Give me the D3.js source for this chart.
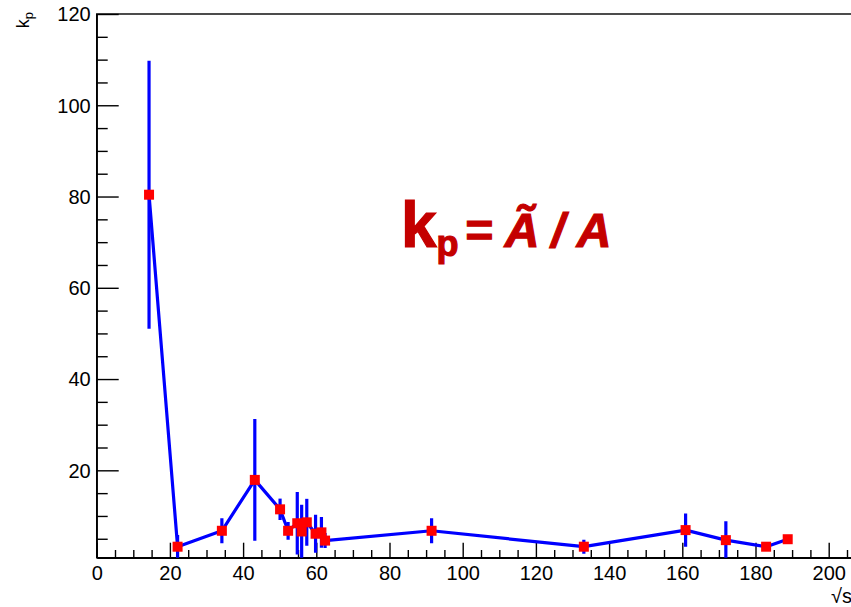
<!DOCTYPE html>
<html>
<head>
<meta charset="utf-8">
<script src="https://cdn.jsdelivr.net/npm/d3@7"></script>
<style>
  body { margin: 0; background: #fff; }
  svg { display: block; font-family: "Liberation Sans", Arial, Helvetica, sans-serif; }
  .axis path, .axis line { stroke: #000; stroke-width: 1.4; }
  .axis text { font-size: 20px; fill: #000; }
</style>
</head>
<body>
<script>
  // sqrt(s) values, k_p and its error
  var energies = [14.3, 22.1, 34.2, 43.2, 50.1, 52.3, 54.8, 56.0, 57.4, 59.8, 61.4, 62.4, 91.5, 133.1, 160.9, 171.9, 182.9, 188.8];
  var kpValues = [80.4, 3.26, 6.75, 17.9, 11.45, 6.75, 8.4, 6.6, 8.6, 6.1, 6.4, 4.6, 6.75, 3.26, 6.9, 4.7, 3.26, 4.9];
  var kpErrors = [29, 2.2, 2.4, 13, 2, 1.6, 6.5, 5.5, 4.8, 3.8, 3, 1.3, 2.4, 1.2, 3.3, 3.8, 0, 0];

  var yMajorTicks = [20, 40, 60, 80, 100, 120];
  var xMajorTicks = [0, 20, 40, 60, 80, 100, 120, 140, 160, 180, 200];

  var margin = {top: 14, left: 96.7},
    width  = 210 * 3.66,
    height = 543.7;

  var data = energies.map(function(e, i) {
    return {x: e, y: kpValues[i], err: kpErrors[i]};
  });

  var x = d3.scaleLinear().domain([0, 210]).range([0, width]),
    y   = d3.scaleLinear().domain([0.85, 120]).range([height, 0]);

  var svg = d3.select('body').append('svg')
    .attr('width', 851)
    .attr('height', 607);

  svg.append('defs').append('clipPath')
    .attr('id', 'clip')
  .append('rect')
    .attr('width', width)
    .attr('height', height);

  var g = svg.append('g')
    .attr('transform', 'translate(' + margin.left + ',' + margin.top + ')');

  // frame
  g.append('rect')
    .attr('width', width)
    .attr('height', height)
    .attr('fill', 'none')
    .attr('stroke', '#000')
    .attr('stroke-width', 1.4);

  // minor ticks
  var yMinor = d3.range(5, 121, 5).filter(function(v) { return v % 20 !== 0; });
  var xMinor = d3.range(0, 211, 5).filter(function(v) { return v % 20 !== 0; });

  g.append('g')
    .attr('class', 'axis')
    .call(d3.axisLeft(y).tickValues(yMinor).tickFormat('').tickSize(-11))
    .select('.domain').remove();

  g.append('g')
    .attr('class', 'axis')
    .attr('transform', 'translate(0,' + height + ')')
    .call(d3.axisBottom(x).tickValues(xMinor).tickFormat('').tickSize(-7.7))
    .select('.domain').remove();

  // major ticks with labels
  g.append('g')
    .attr('class', 'axis')
    .call(d3.axisLeft(y).tickValues(yMajorTicks).tickSize(-22).tickPadding(6).tickSizeOuter(0))
    .selectAll('text').attr('dy', '0.34em');

  g.append('g')
    .attr('class', 'axis')
    .attr('transform', 'translate(0,' + height + ')')
    .call(d3.axisBottom(x).tickValues(xMajorTicks).tickSize(-15).tickPadding(8).tickSizeOuter(0));

  // data
  var plot = g.append('g').attr('clip-path', 'url(#clip)');

  var line = d3.line()
    .x(function(d) { return x(d.x); })
    .y(function(d) { return y(d.y); });

  plot.append('path')
    .datum(data)
    .attr('d', line)
    .attr('fill', 'none')
    .attr('stroke', '#0000ff')
    .attr('stroke-width', 3.2)
    .attr('stroke-linejoin', 'round');

  plot.selectAll('.err')
    .data(data.filter(function(d) { return d.err > 0; }))
    .enter().append('line')
    .attr('class', 'err')
    .attr('x1', function(d) { return x(d.x); })
    .attr('x2', function(d) { return x(d.x); })
    .attr('y1', function(d) { return y(d.y - d.err); })
    .attr('y2', function(d) { return y(d.y + d.err); })
    .attr('stroke', '#0000ff')
    .attr('stroke-width', 3.2)
    .attr('stroke-linecap', 'square');

  plot.selectAll('.marker')
    .data(data)
    .enter().append('rect')
    .attr('class', 'marker')
    .attr('x', function(d) { return x(d.x) - 5; })
    .attr('y', function(d) { return y(d.y) - 5; })
    .attr('width', 10)
    .attr('height', 10)
    .attr('fill', '#ff0000');

  // axis titles
  var yTitle = svg.append('text')
    .attr('transform', 'translate(29,12) rotate(-90)')
    .attr('text-anchor', 'end')
    .style('font-size', '18px');
  yTitle.append('tspan').text('k');
  yTitle.append('tspan').attr('dy', 4).style('font-size', '13px').text('p');

  svg.append('text')
    .attr('x', 831)
    .attr('y', 603)
    .style('font-size', '20px')
    .text('\u221As');

  // formula annotation
  var note = svg.append('text')
    .attr('x', 401)
    .attr('y', 247)
    .attr('fill', '#c40000')
    .attr('stroke', '#c40000')
    .attr('stroke-width', 1.2)
    .style('font-weight', 'bold');
  note.append('tspan').style('font-size', '64px').text('k');
  note.append('tspan').attr('dx', 0).attr('dy', 9).style('font-size', '36px').text('p');
  note.append('tspan').attr('dx', 6).attr('dy', -9)
    .style('font-size', '48px').style('font-style', 'italic')
    .style('letter-spacing', '12px')
    .text('=\u00C3/A');
</script>
</body>
</html>
